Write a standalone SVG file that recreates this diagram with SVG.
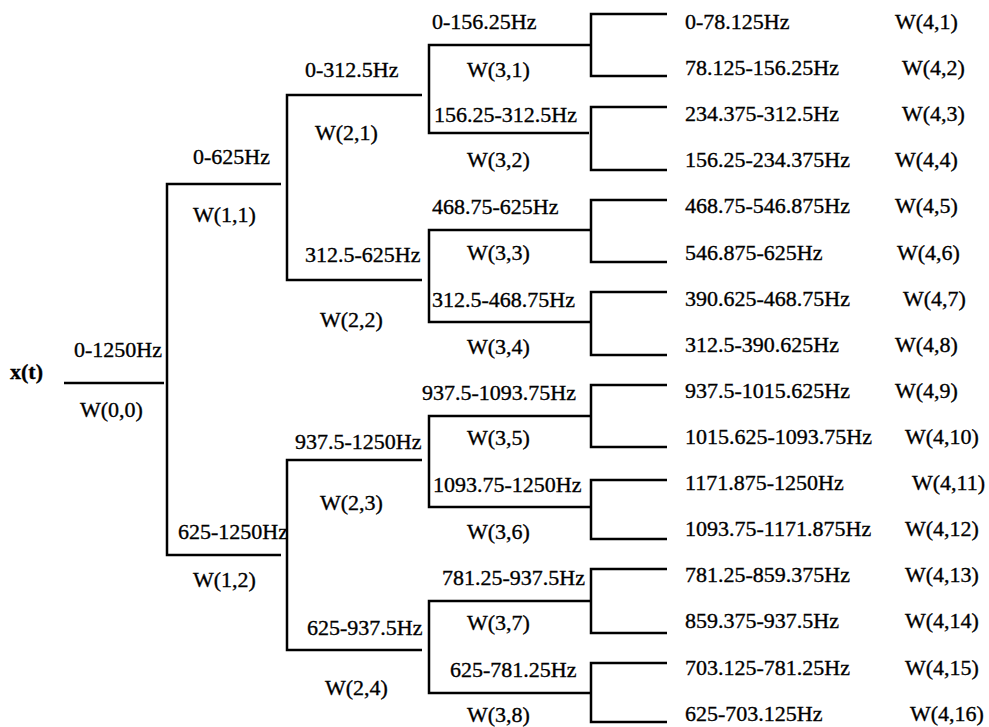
<svg xmlns="http://www.w3.org/2000/svg" width="989" height="727" viewBox="0 0 989 727">
<style>
text{font-family:"Liberation Serif","Times New Roman",serif;font-size:22px;fill:#000;stroke:#000;stroke-width:0.35}
.b{font-weight:bold}
.c{fill:none;stroke:#000;stroke-width:2.5}
</style>
<rect width="989" height="727" fill="#fff"/>
<g id="connectors" class="c">
<path d="M64,383H164"/>
<path d="M281,184H167V555H281"/>
<path d="M422,95H287V280H422"/>
<path d="M422,460H287V650H422"/>
<path d="M591,45H429V133H589"/>
<path d="M591,230H429V322H591"/>
<path d="M591,416H429V507H591"/>
<path d="M591,601H429V693H591"/>
<path d="M667,14H591V76H667"/>
<path d="M667,107H591V170H667"/>
<path d="M667,200H591V262H667"/>
<path d="M667,292H591V355H667"/>
<path d="M667,385H591V447H667"/>
<path d="M667,480H591V539H667"/>
<path d="M667,569H591V633H667"/>
<path d="M667,663H591V722H667"/>
</g>
<g id="n00"><text x="10" y="379" class="b">x(t)</text><text x="74" y="357">0-1250Hz</text><text x="80" y="417">W(0,0)</text></g>
<g id="n11"><text x="193" y="164">0-625Hz</text><text x="193" y="222">W(1,1)</text></g>
<g id="n12"><text x="178" y="539">625-1250Hz</text><text x="193" y="587">W(1,2)</text></g>
<g id="n21"><text x="305" y="77">0-312.5Hz</text><text x="315" y="140">W(2,1)</text></g>
<g id="n22"><text x="305" y="262">312.5-625Hz</text><text x="320" y="327">W(2,2)</text></g>
<g id="n23"><text x="295" y="449">937.5-1250Hz</text><text x="320" y="510">W(2,3)</text></g>
<g id="n24"><text x="307" y="635">625-937.5Hz</text><text x="325" y="695">W(2,4)</text></g>
<g id="n31"><text x="432" y="29">0-156.25Hz</text><text x="467" y="77">W(3,1)</text></g>
<g id="n32"><text x="434" y="122">156.25-312.5Hz</text><text x="467" y="167">W(3,2)</text></g>
<g id="n33"><text x="432" y="214">468.75-625Hz</text><text x="467" y="260">W(3,3)</text></g>
<g id="n34"><text x="432" y="307">312.5-468.75Hz</text><text x="467" y="354">W(3,4)</text></g>
<g id="n35"><text x="422" y="400">937.5-1093.75Hz</text><text x="467" y="445">W(3,5)</text></g>
<g id="n36"><text x="433" y="492">1093.75-1250Hz</text><text x="467" y="539">W(3,6)</text></g>
<g id="n37"><text x="442" y="585">781.25-937.5Hz</text><text x="467" y="630">W(3,7)</text></g>
<g id="n38"><text x="450" y="677">625-781.25Hz</text><text x="467" y="722">W(3,8)</text></g>
<g id="n41"><text x="685" y="29">0-78.125Hz</text><text x="895" y="29">W(4,1)</text></g>
<g id="n42"><text x="685" y="75">78.125-156.25Hz</text><text x="902" y="75">W(4,2)</text></g>
<g id="n43"><text x="685" y="121">234.375-312.5Hz</text><text x="902" y="121">W(4,3)</text></g>
<g id="n44"><text x="685" y="167">156.25-234.375Hz</text><text x="895" y="167">W(4,4)</text></g>
<g id="n45"><text x="685" y="213">468.75-546.875Hz</text><text x="895" y="213">W(4,5)</text></g>
<g id="n46"><text x="685" y="260">546.875-625Hz</text><text x="897" y="260">W(4,6)</text></g>
<g id="n47"><text x="685" y="306">390.625-468.75Hz</text><text x="903" y="306">W(4,7)</text></g>
<g id="n48"><text x="685" y="352">312.5-390.625Hz</text><text x="895" y="352">W(4,8)</text></g>
<g id="n49"><text x="685" y="398">937.5-1015.625Hz</text><text x="895" y="398">W(4,9)</text></g>
<g id="n410"><text x="685" y="444">1015.625-1093.75Hz</text><text x="905" y="444">W(4,10)</text></g>
<g id="n411"><text x="685" y="490">1171.875-1250Hz</text><text x="912" y="490">W(4,11)</text></g>
<g id="n412"><text x="685" y="536">1093.75-1171.875Hz</text><text x="905" y="536">W(4,12)</text></g>
<g id="n413"><text x="685" y="582">781.25-859.375Hz</text><text x="905" y="582">W(4,13)</text></g>
<g id="n414"><text x="685" y="628">859.375-937.5Hz</text><text x="905" y="628">W(4,14)</text></g>
<g id="n415"><text x="685" y="675">703.125-781.25Hz</text><text x="905" y="675">W(4,15)</text></g>
<g id="n416"><text x="685" y="721">625-703.125Hz</text><text x="910" y="721">W(4,16)</text></g>
</svg>
